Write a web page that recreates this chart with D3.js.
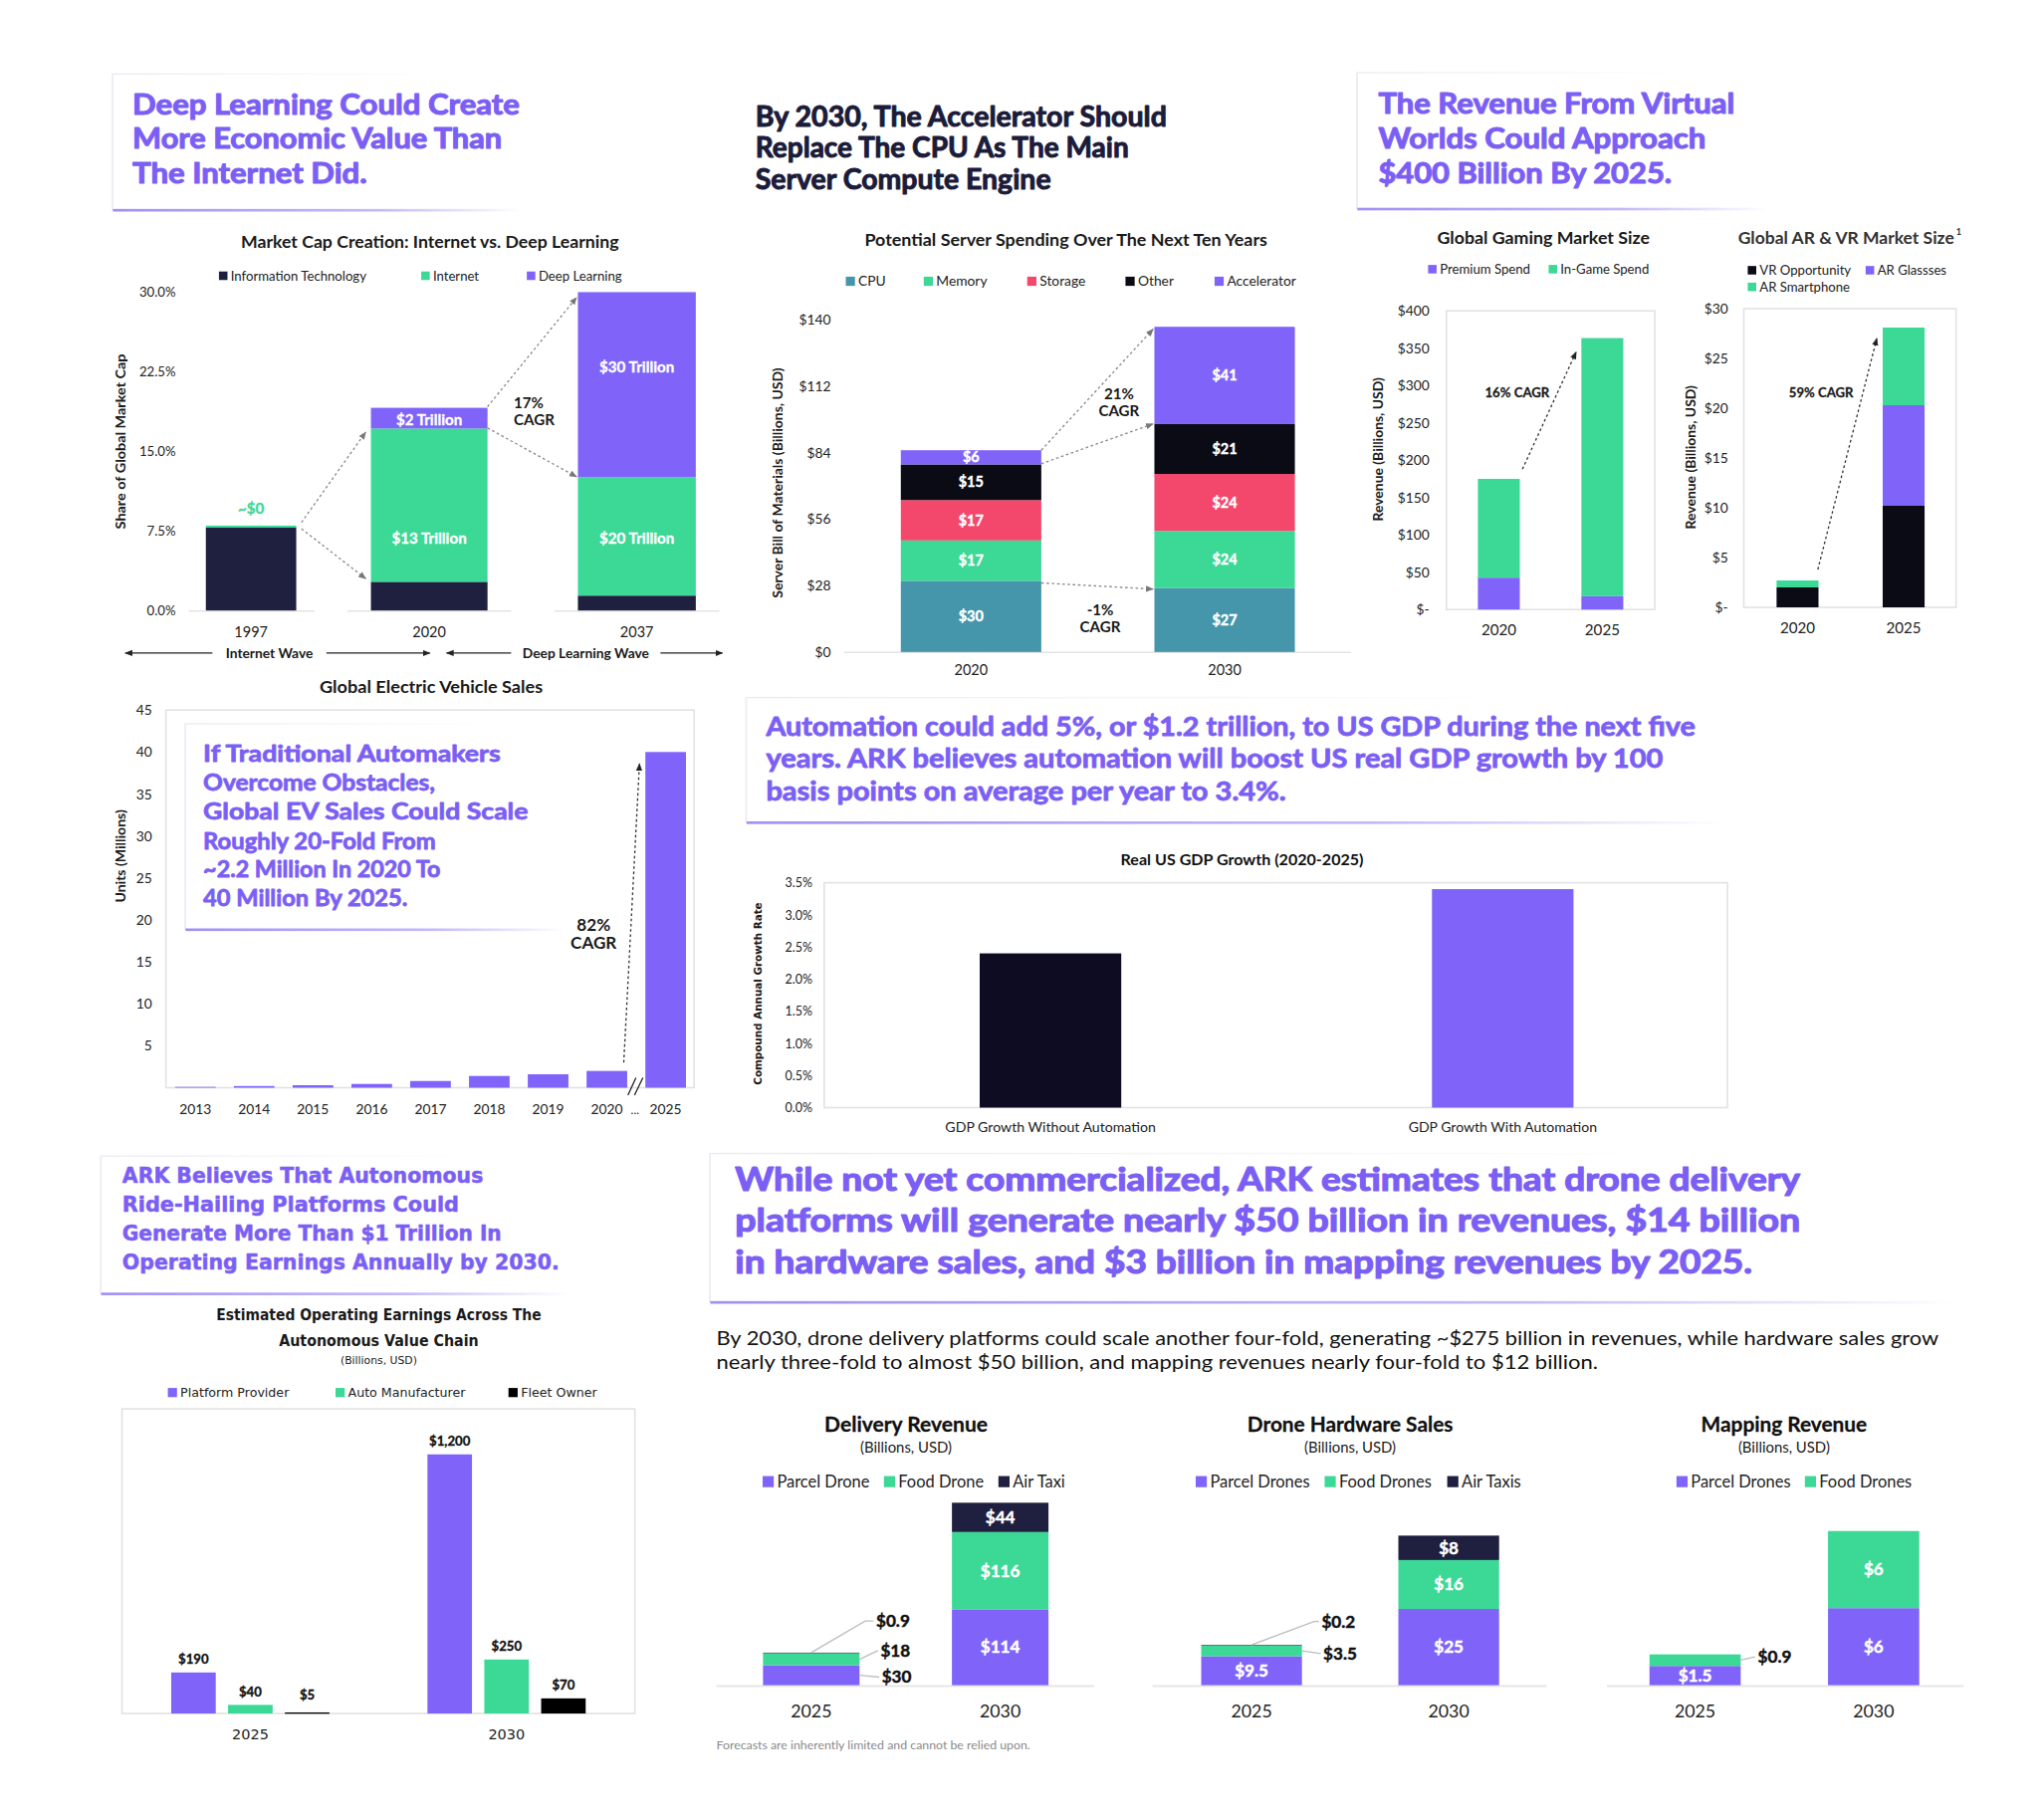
<!DOCTYPE html>
<html>
<head>
<meta charset="utf-8">
<script src="https://cdn.jsdelivr.net/npm/d3@7"></script>
<style>
body { margin: 0; background: #fff; }
svg { display: block; }
</style>
</head>
<body>
<script>
// ---------- data ----------
// Market cap creation (share of global market cap, %)
var mcYears = ["1997", "2020", "2037"];
var mcIT = [7.8, 2.7, 1.4];
var mcInternet = [0.2, 14.45, 11.15];
var mcDeep = [0, 1.95, 17.45];
var mcInternetLabels = ["~$0", "$13 Trillion", "$20 Trillion"];
var mcDeepLabels = ["", "$2 Trillion", "$30 Trillion"];
var mcTicks = [0, 7.5, 15, 22.5, 30];

// Server spending (billions USD)
var srvYears = ["2020", "2030"];
var srvCPU = [30, 27];
var srvMemory = [17, 24];
var srvStorage = [17, 24];
var srvOther = [15, 21];
var srvAccel = [6, 41];
var srvTicks = [0, 28, 56, 84, 112, 140];

// Gaming market (billions USD)
var gmYears = ["2020", "2025"];
var gmPremium = [42.7, 17.9];
var gmInGame = [132.3, 345.7];
var gmTicks = [0, 50, 100, 150, 200, 250, 300, 350, 400];

// AR & VR market (billions USD)
var arYears = ["2020", "2025"];
var arVR = [2.0, 10.2];
var arGlasses = [0, 10.1];
var arSmart = [0.7, 7.8];
var arTicks = [0, 5, 10, 15, 20, 25, 30];

// Global EV sales (millions)
var evYears = ["2013", "2014", "2015", "2016", "2017", "2018", "2019", "2020", "2025"];
var evSales = [0.1, 0.2, 0.3, 0.45, 0.8, 1.4, 1.6, 2.0, 40];
var evTicks = [5, 10, 15, 20, 25, 30, 35, 40, 45];

// Real US GDP growth (%)
var gdpCats = ["GDP Growth Without Automation", "GDP Growth With Automation"];
var gdpValues = [2.4, 3.4];
var gdpTicks = [0, 0.5, 1, 1.5, 2, 2.5, 3, 3.5];

// Autonomous value chain operating earnings (billions USD)
var rhYears = ["2025", "2030"];
var rhSeries = ["Platform Provider", "Auto Manufacturer", "Fleet Owner"];
var rhPlatform = [190, 1200];
var rhAuto = [40, 250];
var rhFleet = [5, 70];

// Drone charts (billions USD)
var drYears = ["2025", "2030"];
var dlParcel = [30, 114];
var dlFood = [18, 116];
var dlAir = [0.9, 44];
var hwParcel = [9.5, 25];
var hwFood = [3.5, 16];
var hwAir = [0.2, 8];
var mpParcel = [1.5, 6];
var mpFood = [0.9, 6];

// ---------- setup ----------
var FONT = "Lato, 'Open Sans', sans-serif";
var WIDE = "'DejaVu Sans', Verdana, sans-serif";
var PURPLE = "#8064fa", GREEN = "#3cd896", NAVY = "#1f1f40", BLACK = "#0b0b16";
var TEAL = "#4596ab", PINK = "#f4476c", TITLE = "#7b5ff5", DARK = "#1b1b3a";

var svg = d3.select("body").append("svg")
    .attr("width", 2053).attr("height", 1825)
    .attr("viewBox", "0 0 1560 1387");
svg.append("rect").attr("width", 1560).attr("height", 1387).attr("fill", "#fff");

var defs = svg.append("defs");
function marker(id, color) {
    defs.append("marker").attr("id", id).attr("viewBox", "0 0 10 10")
        .attr("refX", 9).attr("refY", 5).attr("markerWidth", 6).attr("markerHeight", 6)
        .attr("markerUnits", "userSpaceOnUse").attr("orient", "auto-start-reverse")
        .append("path").attr("d", "M0,1 L10,5 L0,9 Z").attr("fill", color);
}
marker("arrGray", "#777");
marker("arrDark", "#222");
function gradient(id, color, stops) {
    var lg = defs.append("linearGradient").attr("id", id);
    stops.forEach(function(s) {
        lg.append("stop").attr("offset", s[0]).attr("stop-color", color).attr("stop-opacity", s[1]);
    });
}
gradient("fadeLine", "#8a72f2", [["0%", 0.8], ["65%", 0.5], ["100%", 0]]);
gradient("fadeGray", "#ebe9f1", [["0%", 1], ["100%", 0]]);

//Draws one text element, optionally stretched to a width, thickened or rotated
function txt(g, x, y, s, o) {
    o = o || {};
    var t = g.append("text").attr("x", x).attr("y", y).attr("dy", "0.35em")
        .attr("font-family", o.family || FONT).attr("font-size", o.size || 10)
        .attr("font-weight", o.weight || 400).attr("fill", o.fill || "#1a1a1a")
        .attr("text-anchor", o.anchor || "start").text(s);
    if (o.w) t.attr("textLength", o.w).attr("lengthAdjust", "spacingAndGlyphs");
    if (o.heavy) t.attr("stroke", o.fill || "#1a1a1a").attr("stroke-width", o.heavy).attr("stroke-linejoin", "round");
    if (o.rotate) t.attr("transform", "rotate(-90," + x + "," + y + ")");
    return t;
}

//Draws several stacked lines of text
function lines(g, arr, x, ys, o) {
    arr.forEach(function(s, i) {
        var oo = Object.assign({}, o, {w: o.widths ? o.widths[i] : null});
        txt(g, x, ys[i], s, oo);
    });
}

//Light box with a fading purple underline
function titleBox(x, y, w, h) {
    var g = svg.append("g");
    g.append("rect").attr("x", x).attr("y", y).attr("width", w * 0.8).attr("height", 1).attr("fill", "url(#fadeGray)");
    g.append("rect").attr("x", x - 1).attr("y", y).attr("width", 1.5).attr("height", h).attr("fill", "#efedf4");
    g.append("rect").attr("x", x).attr("y", y + h - 1).attr("width", w).attr("height", 2).attr("fill", "url(#fadeLine)");
}

function legend(g, items, colors, xs, ys, o) {
    items.forEach(function(s, i) {
        var y = Array.isArray(ys) ? ys[i] : ys;
        g.append("rect").attr("x", xs[i]).attr("y", y - o.sq / 2).attr("width", o.sq).attr("height", o.sq).attr("fill", colors[i]);
        txt(g, xs[i] + o.sq + 2.5, y, s, {size: o.size, family: o.family, fill: o.fill || "#222"});
    });
}

function leftAxis(g, scale, x, ticks, fmt, o) {
    var a = g.append("g").attr("transform", "translate(" + x + ",0)")
        .call(d3.axisLeft(scale).tickValues(ticks).tickFormat(fmt).tickSize(0).tickPadding(5));
    a.select(".domain").remove();
    a.selectAll("text").attr("font-family", o.family || FONT).attr("font-size", o.size).attr("fill", "#222");
    return a;
}

function bottomAxis(g, scale, y, o) {
    var a = g.append("g").attr("transform", "translate(0," + y + ")")
        .call(d3.axisBottom(scale).tickSize(0).tickPadding(0));
    a.select(".domain").remove();
    a.selectAll("text").attr("dy", "0.35em").attr("font-family", o.family || FONT)
        .attr("font-size", o.size).attr("fill", "#222");
    return a;
}

function dotted(g, x1, y1, x2, y2, color, mk) {
    g.append("line").attr("x1", x1).attr("y1", y1).attr("x2", x2).attr("y2", y2)
        .attr("stroke", color).attr("stroke-width", 1).attr("stroke-dasharray", "2,2")
        .attr("marker-end", "url(#" + mk + ")");
}

function plotBox(g, x0, y0, x1, y1) {
    g.append("rect").attr("x", x0).attr("y", y0).attr("width", x1 - x0).attr("height", y1 - y0)
        .attr("fill", "none").attr("stroke", "#e2e2e2").attr("stroke-width", 1.2);
}

//Stacked bars from named arrays through d3.stack
function stacked(g, cats, keys, arrays, colors, x, y) {
    var rows = cats.map(function(c, i) {
        var r = {cat: c};
        keys.forEach(function(k, j) { r[k] = arrays[j][i]; });
        return r;
    });
    var st = d3.stack().keys(keys)(rows);
    g.selectAll(null).data(st).join("g").attr("fill", function(d, i) { return colors[i]; })
        .selectAll("rect").data(function(d) { return d; }).join("rect")
        .attr("x", function(d) { return x(d.data.cat); })
        .attr("width", x.bandwidth())
        .attr("y", function(d) { return y(d[1]); })
        .attr("height", function(d) { return y(d[0]) - y(d[1]); });
    return st;
}

// ---------- Panel 1: Deep learning market cap ----------
var p1 = svg.append("g");
titleBox(86, 56, 312, 104.5);
lines(p1, ["Deep Learning Could Create", "More Economic Value Than", "The Internet Did."],
    101, [80, 105.7, 132], {size: 22, weight: 700, heavy: 0.8, fill: TITLE, widths: [295.5, 282, 179]});
txt(p1, 328, 185, "Market Cap Creation: Internet vs. Deep Learning", {size: 13, weight: 700, anchor: "middle", w: 288.5});
legend(p1, ["Information Technology", "Internet", "Deep Learning"], [NAVY, GREEN, PURPLE],
    [167, 321.4, 402], 210.5, {sq: 6.5, size: 10});

var y1 = d3.scaleLinear().domain([0, 30]).range([466, 223]);
var x1c = d3.scaleOrdinal().domain(mcYears).range([191.5, 327.5, 486]);
var x1w = d3.scaleOrdinal().domain(mcYears).range([69, 89, 90]);
[[144, 240], [265, 390], [423, 549]].forEach(function(s) {
    p1.append("line").attr("x1", s[0]).attr("x2", s[1]).attr("y1", 466.5).attr("y2", 466.5)
        .attr("stroke", "#e3e3e3").attr("stroke-width", 1.2);
});
var mcRows = mcYears.map(function(yr, i) { return {cat: yr, it: mcIT[i], internet: mcInternet[i], deep: mcDeep[i]}; });
var mcStack = d3.stack().keys(["it", "internet", "deep"])(mcRows);
p1.selectAll(null).data(mcStack).join("g").attr("fill", function(d, i) { return [NAVY, GREEN, PURPLE][i]; })
    .selectAll("rect").data(function(d) { return d; }).join("rect")
    .attr("x", function(d) { return x1c(d.data.cat) - x1w(d.data.cat) / 2; })
    .attr("width", function(d) { return x1w(d.data.cat); })
    .attr("y", function(d) { return y1(d[1]); })
    .attr("height", function(d) { return y1(d[0]) - y1(d[1]); });
leftAxis(p1, y1, 139, mcTicks, function(d) { return d.toFixed(1) + "%"; }, {size: 10});
txt(p1, 92.4, 337, "Share of Global Market Cap", {size: 10, weight: 700, anchor: "middle", rotate: true, w: 133.7});
var mcIntAt = [9.6, 6.8, 6.8], mcDeepAt = [0, 18, 22.9];
mcYears.forEach(function(yr, i) {
    txt(p1, x1c(yr), y1(mcIntAt[i]), mcInternetLabels[i], {size: 11.5, weight: 700, heavy: 0.25, anchor: "middle", fill: i === 0 ? GREEN : "#fff"});
    if (mcDeepLabels[i]) txt(p1, x1c(yr), y1(mcDeepAt[i]), mcDeepLabels[i], {size: 11.5, weight: 700, heavy: 0.25, anchor: "middle", fill: "#fff"});
    txt(p1, x1c(yr), 482.7, yr, {size: 11, anchor: "middle"});
});
var r1997 = x1c("1997") + x1w("1997") / 2, l2020 = x1c("2020") - x1w("2020") / 2;
var r2020 = x1c("2020") + x1w("2020") / 2, l2037 = x1c("2037") - x1w("2037") / 2;
dotted(p1, r1997 + 4, y1(8.3), l2020 - 4, y1(16.8), "#888", "arrGray");
dotted(p1, r1997 + 4, y1(7.7), l2020 - 4, y1(3), "#888", "arrGray");
dotted(p1, r2020, y1(19.2), l2037 - 1, y1(29.5), "#888", "arrGray");
dotted(p1, r2020, y1(17.2), l2037 - 1, y1(12.6), "#888", "arrGray");
txt(p1, 392, 307.8, "17%", {size: 11.5, weight: 700});
txt(p1, 392, 320.5, "CAGR", {size: 11.5, weight: 700});
// wave arrows
[[95.5, 162, "start"], [249, 328, "end"], [340.8, 390, "start"], [504, 551.4, "end"]].forEach(function(s) {
    var l = p1.append("line").attr("x1", s[0]).attr("x2", s[1]).attr("y1", 498.5).attr("y2", 498.5)
        .attr("stroke", "#222").attr("stroke-width", 0.9);
    l.attr("marker-" + s[2], "url(#arrDark)");
});
txt(p1, 205.5, 498.5, "Internet Wave", {size: 10.5, weight: 700, anchor: "middle"});
txt(p1, 447, 498.5, "Deep Learning Wave", {size: 10.5, weight: 700, anchor: "middle"});

// ---------- Panel 2: Server spending ----------
var p2 = svg.append("g");
lines(p2, ["By 2030, The Accelerator Should", "Replace The CPU As The Main", "Server Compute Engine"],
    576.5, [89, 113, 137], {size: 21, weight: 700, heavy: 0.7, fill: DARK, widths: [314, 285, 225.6]});
txt(p2, 813.6, 183, "Potential Server Spending Over The Next Ten Years", {size: 13, weight: 700, anchor: "middle", w: 307.4});
legend(p2, ["CPU", "Memory", "Storage", "Other", "Accelerator"], [TEAL, GREEN, PINK, BLACK, PURPLE],
    [645.5, 705, 784, 859, 927], 214.7, {sq: 7, size: 10.5});
var y2 = d3.scaleLinear().domain([0, 140]).range([497.7, 244]);
var x2 = d3.scaleBand().domain(srvYears).range([687.5, 988.3]).paddingInner(0.446);
p2.append("line").attr("x1", 644).attr("x2", 1031).attr("y1", 498).attr("y2", 498).attr("stroke", "#e3e3e3").attr("stroke-width", 1.2);
var srvStack = stacked(p2, srvYears, ["cpu", "mem", "sto", "oth", "acc"],
    [srvCPU, srvMemory, srvStorage, srvOther, srvAccel], [TEAL, GREEN, PINK, BLACK, PURPLE], x2, y2);
srvStack.forEach(function(layer) {
    layer.forEach(function(d) {
        txt(p2, x2(d.data.cat) + x2.bandwidth() / 2, y2((d[0] + d[1]) / 2), "$" + (d[1] - d[0]),
            {size: 11, weight: 700, heavy: 0.3, anchor: "middle", fill: "#fff"});
    });
});
leftAxis(p2, y2, 639, srvTicks, function(d) { return "$" + d; }, {size: 10.5});
txt(p2, 594, 368.6, "Server Bill of Materials (Billions, USD)", {size: 10, weight: 700, anchor: "middle", rotate: true, w: 175.8});
bottomAxis(p2, x2, 511.4, {size: 11});
var r2 = x2("2020") + x2.bandwidth(), l2 = x2("2030");
dotted(p2, r2, y2(85), l2 - 1, y2(136), "#888", "arrGray");
dotted(p2, r2, y2(79.3), l2 - 1, y2(96.1), "#888", "arrGray");
dotted(p2, r2, y2(29.1), l2 - 1, y2(26.5), "#888", "arrGray");
txt(p2, 854, 301, "21%", {size: 11.5, weight: 700, anchor: "middle"});
txt(p2, 854, 313.5, "CAGR", {size: 11.5, weight: 700, anchor: "middle"});
txt(p2, 839.7, 465.8, "-1%", {size: 11.5, weight: 700, anchor: "middle"});
txt(p2, 839.7, 478.3, "CAGR", {size: 11.5, weight: 700, anchor: "middle"});

// ---------- Panel 3: Virtual worlds ----------
var p3 = svg.append("g");
titleBox(1036, 55, 313, 104.6);
lines(p3, ["The Revenue From Virtual", "Worlds Could Approach", "$400 Billion By 2025."],
    1052, [78.6, 105.6, 132], {size: 22, weight: 700, heavy: 0.8, fill: TITLE, widths: [272, 250, 224]});

// gaming
txt(p3, 1178, 181.6, "Global Gaming Market Size", {size: 12.5, weight: 700, anchor: "middle", w: 162.2});
legend(p3, ["Premium Spend", "In-Game Spend"], [PURPLE, GREEN], [1090, 1182], 205.5, {sq: 6.5, size: 10});
var yg = d3.scaleLinear().domain([0, 400]).range([465.3, 237.3]);
var xg = d3.scaleBand().domain(gmYears).range([1128, 1239]).paddingInner(0.595);
plotBox(p3, 1104, 237.3, 1263, 465.3);
stacked(p3, gmYears, ["prem", "ingame"], [gmPremium, gmInGame], [PURPLE, GREEN], xg, yg);
leftAxis(p3, yg, 1096, gmTicks, function(d) { return d === 0 ? "$-" : "$" + d; }, {size: 10.5});
txt(p3, 1052, 343, "Revenue (Billions, USD)", {size: 10, weight: 700, anchor: "middle", rotate: true, w: 109.7});
bottomAxis(p3, xg, 481, {size: 11.5});
dotted(p3, xg("2020") + xg.bandwidth() + 2, yg(188), xg("2025") - 4, yg(345), "#333", "arrDark");
txt(p3, 1158, 300, "16% CAGR", {size: 10, weight: 700, heavy: 0.2, anchor: "middle"});

// AR & VR
txt(p3, 1326.6, 181.6, "Global AR & VR Market Size", {size: 12.5, weight: 700, w: 165, fill: "#333"});
txt(p3, 1493, 177, "1", {size: 7, weight: 700, fill: "#333"});
legend(p3, ["VR Opportunity", "AR Glassses", "AR Smartphone"], [BLACK, PURPLE, GREEN],
    [1334, 1424, 1334], [206.3, 206.3, 219], {sq: 6.5, size: 10});
var ya = d3.scaleLinear().domain([0, 30]).range([463.6, 235.6]);
var xa = d3.scaleBand().domain(arYears).range([1356, 1469]).paddingInner(0.605);
plotBox(p3, 1331, 235.6, 1493, 463.6);
stacked(p3, arYears, ["vr", "glasses", "smart"], [arVR, arGlasses, arSmart], [BLACK, PURPLE, GREEN], xa, ya);
leftAxis(p3, ya, 1324, arTicks, function(d) { return d === 0 ? "$-" : "$" + d; }, {size: 10.5});
txt(p3, 1291, 349, "Revenue (Billions, USD)", {size: 10, weight: 700, anchor: "middle", rotate: true, w: 109.7});
bottomAxis(p3, xa, 479.6, {size: 11.5});
dotted(p3, xa("2020") + xa.bandwidth() - 0.5, ya(3.8), xa("2025") - 4.5, ya(27), "#333", "arrDark");
txt(p3, 1390, 299.5, "59% CAGR", {size: 10, weight: 700, heavy: 0.2, anchor: "middle"});

// ---------- Panel 4: EV sales ----------
var p4 = svg.append("g");
txt(p4, 329, 524.3, "Global Electric Vehicle Sales", {size: 13, weight: 700, anchor: "middle", w: 170.4});
var ye = d3.scaleLinear().domain([0, 45]).range([830.3, 542]);
var xe = d3.scaleBand().domain(evYears).range([133.5, 523.5]).paddingInner(0.309);
plotBox(p4, 126.5, 542, 529.7, 830.3);
p4.selectAll(null).data(evSales).join("rect").attr("fill", PURPLE)
    .attr("x", function(d, i) { return xe(evYears[i]); }).attr("width", xe.bandwidth())
    .attr("y", function(d) { return ye(d); }).attr("height", function(d) { return ye(0) - ye(d); });
leftAxis(p4, ye, 121, evTicks, function(d) { return d; }, {size: 10.5});
txt(p4, 92.5, 653.5, "Units (Millions)", {size: 10, weight: 700, anchor: "middle", rotate: true, w: 70.9});
bottomAxis(p4, xe, 846.5, {size: 10.5});
txt(p4, 484.6, 847, "...", {size: 9, anchor: "middle"});
[[479.2, 485.3], [484.2, 490.6]].forEach(function(s) {
    p4.append("line").attr("x1", s[0]).attr("y1", 836).attr("x2", s[1]).attr("y2", 822.7)
        .attr("stroke", "#222").attr("stroke-width", 1);
});
// callout box
p4.append("rect").attr("x", 141.5).attr("y", 552).attr("width", 289).attr("height", 157).attr("fill", "#fff");
titleBox(141.5, 552, 289, 157.7);
lines(p4, ["If Traditional Automakers", "Overcome Obstacles,", "Global EV Sales Could Scale",
        "Roughly 20-Fold From", "~2.2 Million In 2020 To", "40 Million By 2025."],
    155, [575, 597.3, 619.3, 641.6, 663.6, 685.6],
    {size: 18, weight: 700, heavy: 0.6, fill: TITLE, widths: [227, 177, 248, 177.5, 181, 156]});
dotted(p4, 476, ye(3), 488, ye(38.6), "#333", "arrDark");
txt(p4, 453, 706, "82%", {size: 13, weight: 700, anchor: "middle"});
txt(p4, 453, 720, "CAGR", {size: 13, weight: 700, anchor: "middle"});

// ---------- Panel 5: GDP ----------
var p5 = svg.append("g");
titleBox(569.7, 532, 748, 96);
lines(p5, ["Automation could add 5%, or $1.2 trillion, to US GDP during the next five",
        "years. ARK believes automation will boost US real GDP growth by 100",
        "basis points on average per year to 3.4%."],
    584.6, [554.7, 578.8, 604], {size: 20, weight: 700, heavy: 0.6, fill: TITLE, widths: [709.4, 684.7, 397]});
txt(p5, 948, 656.5, "Real US GDP Growth (2020-2025)", {size: 12, weight: 700, anchor: "middle", w: 185.4, fill: "#111"});
var yd = d3.scaleLinear().domain([0, 3.5]).range([845.5, 673.8]);
var xd = d3.scaleBand().domain(gdpCats).range([747.7, 1201]).paddingInner(0.687);
plotBox(p5, 629, 673.8, 1318.5, 845.5);
p5.selectAll(null).data(gdpValues).join("rect")
    .attr("fill", function(d, i) { return ["#0d0c22", PURPLE][i]; })
    .attr("x", function(d, i) { return xd(gdpCats[i]); }).attr("width", xd.bandwidth())
    .attr("y", function(d) { return yd(d); }).attr("height", function(d) { return yd(0) - yd(d); });
leftAxis(p5, yd, 625, gdpTicks, function(d) { return d.toFixed(1) + "%"; }, {size: 9.5});
txt(p5, 578, 758.5, "Compound Annual Growth Rate", {size: 8.5, weight: 700, anchor: "middle", rotate: true, w: 139.3, family: WIDE});
var gdpAx = bottomAxis(p5, xd, 860.7, {size: 10});
gdpAx.selectAll("text").attr("textLength", function(d, i) { return [160.7, 143.9][i]; }).attr("lengthAdjust", "spacingAndGlyphs");

// ---------- Panel 6: Ride-hailing ----------
var p6 = svg.append("g");
titleBox(77, 882, 357, 105.7);
lines(p6, ["ARK Believes That Autonomous", "Ride-Hailing Platforms Could",
        "Generate More Than $1 Trillion In", "Operating Earnings Annually by 2030."],
    93.2, [897, 919.5, 941.2, 963.2],
    {size: 16, weight: 700, heavy: 0.4, fill: TITLE, family: WIDE, widths: [275.5, 257, 289.5, 333.7]});
txt(p6, 289, 1004.1, "Estimated Operating Earnings Across The", {size: 11.5, weight: 700, anchor: "middle", family: WIDE, w: 248});
txt(p6, 289, 1023.3, "Autonomous Value Chain", {size: 11.5, weight: 700, anchor: "middle", family: WIDE, w: 152.4});
txt(p6, 289, 1038.8, "(Billions, USD)", {size: 7.5, anchor: "middle", family: WIDE, w: 58.5});
legend(p6, rhSeries, [PURPLE, GREEN, "#000"], [128, 256, 388], 1063, {sq: 7, size: 9.6, family: WIDE});
var yr = d3.scaleLinear().domain([0, 1200]).range([1308, 1110.2]);
var xr0 = d3.scaleBand().domain(rhYears).range([93, 484.5]).paddingInner(0.3824).paddingOuter(0.192);
var xr1 = d3.scaleBand().domain(rhSeries).range([0, xr0.bandwidth()]).paddingInner(0.2166);
plotBox(p6, 93, 1075.5, 484.5, 1308);
var rhRows = [];
rhYears.forEach(function(yrs, i) {
    [rhPlatform, rhAuto, rhFleet].forEach(function(arr, j) {
        rhRows.push({year: yrs, series: rhSeries[j], value: arr[i], color: [PURPLE, GREEN, "#000"][j]});
    });
});
p6.selectAll(null).data(rhRows).join("rect")
    .attr("fill", function(d) { return d.color; })
    .attr("x", function(d) { return xr0(d.year) + xr1(d.series); }).attr("width", xr1.bandwidth())
    .attr("y", function(d) { return yr(d.value); }).attr("height", function(d) { return Math.max(1, yr(0) - yr(d.value)); });
p6.selectAll(null).data(rhRows).join("text")
    .attr("x", function(d) { return xr0(d.year) + xr1(d.series) + xr1.bandwidth() / 2; })
    .attr("y", function(d) { return yr(d.value) - (d.value < 10 ? 13 : 10); }).attr("dy", "0.35em")
    .attr("text-anchor", "middle").attr("font-family", FONT).attr("font-size", 10).attr("font-weight", 700)
    .attr("stroke", "#111").attr("stroke-width", 0.25)
    .attr("fill", "#111").text(function(d) { return "$" + d3.format(",")(d.value); });
var rAx = d3.scaleBand().domain(rhYears).range(xr0.range()).paddingInner(0.3824).paddingOuter(0.192);
bottomAxis(p6, rAx, 1324.2, {size: 11, family: WIDE});

// ---------- Panel 7: Drone delivery ----------
var p7 = svg.append("g");
titleBox(542, 880, 955, 114.2);
lines(p7, ["While not yet commercialized, ARK estimates that drone delivery",
        "platforms will generate nearly $50 billion in revenues, $14 billion",
        "in hardware sales, and $3 billion in mapping revenues by 2025."],
    561, [900.2, 931.2, 963.2], {size: 25, weight: 700, heavy: 0.9, fill: TITLE, widths: [813, 813, 776.5]});
lines(p7, ["By 2030, drone delivery platforms could scale another four-fold, generating ~$275 billion in revenues, while hardware sales grow",
        "nearly three-fold to almost $50 billion, and mapping revenues nearly four-fold to $12 billion."],
    546.7, [1022, 1039.8], {size: 14.5, fill: "#111", widths: [933, 673]});
txt(p7, 546.7, 1332.2, "Forecasts are inherently limited and cannot be relied upon.", {size: 9, fill: "#8a8a8a", w: 239.6});

var droneCharts = [
    {title: "Delivery Revenue", tw: 124.6, cx: 691.5, names: ["Parcel Drone", "Food Drone", "Air Taxi"],
     series: [dlParcel, dlFood, dlAir], legendX: [582, 674.6, 762], range: [582.3, 800.2],
     base: [546.7, 835], top: 1147.1,
     outside: [{s: 2, lx: 668.7, ly: 1237.4, from: "top", bend: 660.3},
               {s: 1, lx: 672, ly: 1260, from: "right"},
               {s: 0, lx: 673, ly: 1280.2, from: "right"}]},
    {title: "Drone Hardware Sales", tw: 157, cx: 1030.5, names: ["Parcel Drones", "Food Drones", "Air Taxis"],
     series: [hwParcel, hwFood, hwAir], legendX: [912.6, 1011, 1104.6], range: [916.8, 1144.2],
     base: [879.6, 1180.5], top: 1172.2,
     outside: [{s: 2, lx: 1008.7, ly: 1237.7, from: "top", bend: 1003},
               {s: 1, lx: 1010, ly: 1262.2, from: "right"}]},
    {title: "Mapping Revenue", tw: 126.6, cx: 1361.7, names: ["Parcel Drones", "Food Drones"],
     series: [mpParcel, mpFood], legendX: [1279.6, 1377.6], range: [1259, 1464.9],
     base: [1226.5, 1498.5], top: 1168.7,
     outside: [{s: 1, lx: 1341.7, ly: 1264.7, from: "right"}]}
];
var droneColors = [PURPLE, GREEN, NAVY];
droneCharts.forEach(function(c) {
    var g = p7.append("g");
    txt(g, c.cx, 1087.2, c.title, {size: 16, weight: 700, heavy: 0.2, anchor: "middle", w: c.tw, fill: "#111"});
    txt(g, c.cx, 1105.2, "(Billions, USD)", {size: 11, anchor: "middle", w: 69.9});
    legend(g, c.names, droneColors, c.legendX, 1131, {sq: 8.5, size: 12.5});
    var totals = drYears.map(function(d, i) { return d3.sum(c.series, function(s) { return s[i]; }); });
    var y = d3.scaleLinear().domain([0, d3.max(totals)]).range([1286.4, c.top]);
    var x = d3.scaleBand().domain(drYears).range(c.range).paddingInner(0.489);
    g.append("line").attr("x1", c.base[0]).attr("x2", c.base[1]).attr("y1", 1287).attr("y2", 1287)
        .attr("stroke", "#e6e6e6").attr("stroke-width", 1.5);
    var keys = c.series.map(function(s, i) { return "k" + i; });
    var st = stacked(g, drYears, keys, c.series, droneColors, x, y);
    var outSet = c.outside.map(function(o) { return o.s; });
    st.forEach(function(layer, j) {
        layer.forEach(function(d, i) {
            if (i === 0 && outSet.indexOf(j) >= 0) return;
            txt(g, x(d.data.cat) + x.bandwidth() / 2, y((d[0] + d[1]) / 2), "$" + c.series[j][i],
                {size: 13, weight: 700, heavy: 0.35, anchor: "middle", fill: "#fff"});
        });
    });
    c.outside.forEach(function(o) {
        var seg = st[o.s][0];
        var pts;
        if (o.from === "top") {
            var cx0 = x("2025") + x.bandwidth() / 2;
            pts = [[cx0, y(seg[1])], [o.bend, o.ly], [o.lx - 2, o.ly]];
        } else {
            pts = [[x("2025") + x.bandwidth(), y((seg[0] + seg[1]) / 2)], [o.lx - 2, o.ly]];
        }
        g.append("path").attr("d", d3.line()(pts)).attr("fill", "none").attr("stroke", "#bdbdbd").attr("stroke-width", 1);
        txt(g, o.lx, o.ly, "$" + c.series[o.s][0], {size: 13, weight: 700, heavy: 0.35, fill: "#111"});
    });
    bottomAxis(g, x, 1306, {size: 13.5});
});
</script>
</body>
</html>
